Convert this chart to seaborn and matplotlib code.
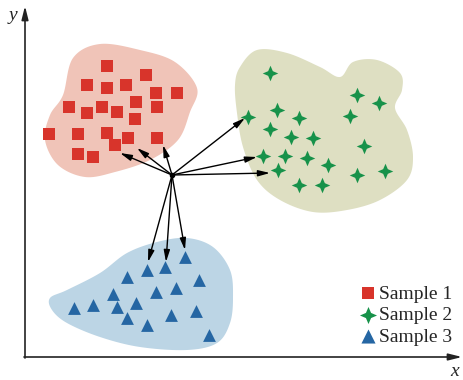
import numpy as np
import pandas as pd
import matplotlib
matplotlib.use('Agg')
import matplotlib.pyplot as plt
from matplotlib.patches import Polygon
from matplotlib.path import Path
import seaborn as sns

# sample points (pixel-like coordinates, y grows downward)
sample1_x = [107, 146, 87, 107, 126, 156, 177, 69, 87, 102, 117, 136, 157, 135, 49, 78, 107, 128, 157, 115, 78, 93]
sample1_y = [66, 75, 85, 88, 85, 93, 93, 107, 113, 107, 112, 102, 107, 119, 134, 134, 133, 138, 138, 145, 154, 157]
sample2_x = [270, 357, 379, 350, 277, 248, 299, 270, 291, 313, 364, 263, 285, 307, 328, 278, 357, 385, 299, 322]
sample2_y = [73, 95, 103, 116, 110, 117, 118, 129, 137, 138, 146, 156, 156, 158, 165, 170, 175, 171, 185, 185]
sample3_x = [185, 147, 165, 127, 199, 156, 176, 113, 74, 93, 117, 136, 127, 147, 171, 196, 209]
sample3_y = [257, 270, 267, 277, 280, 292, 288, 294, 308, 305, 307, 303, 318, 325, 315, 311, 335]

# region outlines
blob1 = [(73, 58), (100, 44), (140, 50), (175, 62), (197, 88), (190, 112), (178, 140), (150, 160),
         (115, 172), (85, 177), (58, 165), (45, 140), (50, 115), (63, 95)]
blob2 = [(240, 67), (257, 50), (287, 53), (320, 67), (340, 77), (353, 62), (377, 60), (400, 73),
         (402, 90), (395, 108), (407, 130), (413, 157), (407, 180), (380, 200), (347, 210),
         (313, 212), (280, 200), (257, 180), (243, 147), (237, 113), (235, 85)]
blob3 = [(50, 298), (67, 290), (100, 273), (127, 253), (157, 242), (187, 238), (213, 247),
         (230, 270), (233, 297), (230, 323), (217, 343), (187, 350), (140, 347), (100, 337),
         (67, 323), (52, 310)]

arrow_origin = (172, 175)
arrow_targets = [(120, 153), (137, 148), (163, 145),
                 (245, 118), (257, 157), (270, 173),
                 (148, 262), (166, 262), (185, 250)]

labels = ['Sample 1', 'Sample 2', 'Sample 3']
point_colors = ['#d8342b', '#17924a', '#2566a3']
blob_colors = ['#f0c4b8', '#dedfc2', '#bcd5e5']


def smooth_closed(pts, n=20):
    # closed Catmull-Rom curve through the outline points
    p = np.array(pts, dtype=float)
    out = []
    m = len(p)
    for i in range(m):
        p0, p1, p2, p3 = p[i - 1], p[i], p[(i + 1) % m], p[(i + 2) % m]
        for t in np.linspace(0, 1, n, endpoint=False):
            t2, t3 = t * t, t * t * t
            out.append(0.5 * (2 * p1 + (-p0 + p2) * t + (2 * p0 - 5 * p1 + 4 * p2 - p3) * t2
                              + (-p0 + 3 * p1 - 3 * p2 + p3) * t3))
    return np.array(out)


k = 0.3
star4 = Path([(0, 1), (k, k), (1, 0), (k, -k), (0, -1), (-k, -k), (-1, 0), (-k, k), (0, 1)],
             [Path.MOVETO] + [Path.LINETO] * 7 + [Path.CLOSEPOLY])

sns.set_style('white')
plt.rcParams['font.family'] = ['Liberation Serif', 'DejaVu Serif']

fig = plt.figure(figsize=(4.63, 3.80), dpi=100)
ax = fig.add_axes([0, 0, 1, 1])
ax.set_xlim(0, 463)
ax.set_ylim(380, 0)
ax.axis('off')

for blob, c in zip([blob1, blob2, blob3], blob_colors):
    ax.add_patch(Polygon(smooth_closed(blob), closed=True, facecolor=c, edgecolor='none', zorder=1))

df1 = pd.DataFrame({'x': sample1_x, 'y': sample1_y})
df2 = pd.DataFrame({'x': sample2_x, 'y': sample2_y})
df3 = pd.DataFrame({'x': sample3_x, 'y': sample3_y})
sns.scatterplot(data=df1, x='x', y='y', marker='s', s=70, color=point_colors[0], linewidth=0,
                label=labels[0], ax=ax, zorder=3)
sns.scatterplot(data=df2, x='x', y='y', marker=star4, s=125, color=point_colors[1], linewidth=0,
                label=labels[1], ax=ax, zorder=3)
sns.scatterplot(data=df3, x='x', y='y', marker='^', s=85, color=point_colors[2], linewidth=0,
                label=labels[2], ax=ax, zorder=3)

for tx, ty in arrow_targets:
    ax.annotate('', xy=(tx, ty), xytext=arrow_origin,
                arrowprops=dict(arrowstyle='-|>,head_length=0.7,head_width=0.18', lw=1.0, color='black',
                                shrinkA=0, shrinkB=0), zorder=4)
ax.plot(*arrow_origin, 'o', color='black', ms=3, zorder=5)

# coordinate axes
ax.annotate('', xy=(25, 6), xytext=(25, 358),
            arrowprops=dict(arrowstyle='-|>,head_length=0.8,head_width=0.2', lw=1.2, color='#222222',
                            shrinkA=0, shrinkB=0))
ax.annotate('', xy=(462, 357), xytext=(24, 357),
            arrowprops=dict(arrowstyle='-|>,head_length=0.8,head_width=0.2', lw=1.2, color='#222222',
                            shrinkA=0, shrinkB=0))
ax.text(13, 16, 'y', fontsize=14, style='italic', ha='center', va='center')
ax.text(455, 371, 'x', fontsize=14, style='italic', ha='center', va='center')

ax.legend(loc='lower right', bbox_to_anchor=(0.998, 0.065), frameon=False, fontsize=14,
          handletextpad=0.1, labelspacing=0.2, borderpad=0, handlelength=0.9, markerscale=1.1)

fig.savefig('out.png', dpi=100)
